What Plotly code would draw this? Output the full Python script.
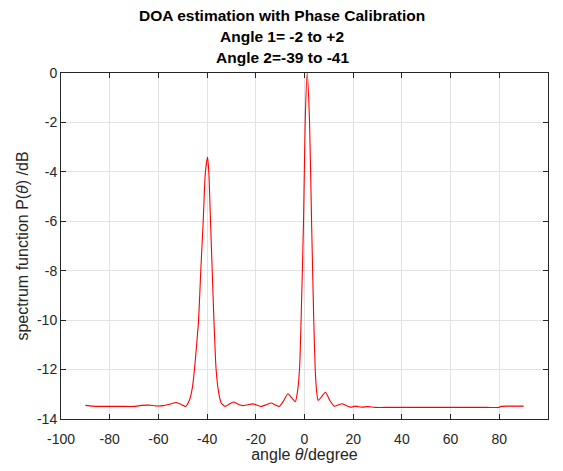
import plotly.graph_objects as go

angles = [-90, -87, -84, -80, -75, -70, -67, -64, -61, -58, -55, -52.7, -50.5, -48.8,
          -47.2, -46, -45.2, -44.3, -43.5, -42.6, -41.6, -40.7, -39.8, -39.3, -38.6,
          -37.9, -37.2, -36.3, -35.3, -34.2, -32.6, -31, -29.2, -27.3, -25.3, -23.2,
          -21.2, -19.5, -17.8, -15.7, -13.7, -12, -10.3, -8.5, -6.8, -5.2, -3.8, -2.9,
          -2.05, -1.4, -0.4, 0.3, 1.1, 2.05, 2.9, 3.8, 4.4, 5.0, 5.6, 7.0, 8.6, 10.4,
          12.3, 14, 15.4, 17, 18.9, 21, 23.5, 26, 29, 35, 45, 55, 65, 75, 80, 80.5, 85, 90]
spectrum_db = [-13.45, -13.48, -13.49, -13.49, -13.49, -13.49, -13.45, -13.44, -13.47, -13.46,
               -13.39, -13.33, -13.42, -13.49, -13.22, -12.7, -12.0, -11.0, -10.0, -8.0,
               -6.0, -4.0, -3.4, -4.0, -6.0, -8.0, -10.0, -12.0, -12.9, -13.35, -13.49,
               -13.4, -13.31, -13.4, -13.46, -13.42, -13.39, -13.44, -13.49, -13.42, -13.35,
               -13.43, -13.49, -13.25, -12.98, -13.15, -13.3, -12.9, -12.0, -10.0, -6.0,
               -1.9, 0.0, -1.9, -6.0, -10.0, -12.0, -12.9, -13.25, -13.1, -12.92, -13.25,
               -13.48, -13.42, -13.38, -13.45, -13.52, -13.48, -13.52, -13.5, -13.53,
               -13.53, -13.53, -13.53, -13.53, -13.53, -13.53, -13.49, -13.48, -13.48]

x_ticks = [-100, -80, -60, -40, -20, 0, 20, 40, 60, 80, 100]
y_ticks = [0, -2, -4, -6, -8, -10, -12, -14]

title_lines = ["DOA estimation with Phase Calibration", "Angle 1= -2 to +2", "Angle 2=-39 to -41"]

font_family = "Liberation Sans, Arial, sans-serif"
axis_color = "#262626"

# page body has an 8px margin, so the figure is sized to fit the 563x471 window
W, H = 547, 455
ml, mr, mt, mb = 53, 7, 64.7, 43.7
plot_h = H - mt - mb

fig = go.Figure()
fig.add_trace(go.Scatter(
    x=angles, y=spectrum_db, mode="lines",
    line=dict(color="#ff0000", width=1.1, shape="spline", smoothing=0.6),
    hoverinfo="skip", showlegend=False,
))

axis_common = dict(
    showline=True, linecolor=axis_color, linewidth=1, mirror="ticks",
    ticks="inside", ticklen=5, tickcolor=axis_color, tickwidth=1,
    showgrid=True, gridcolor="#e3e3e3", gridwidth=1, zeroline=False,
    tickfont=dict(family=font_family, size=14, color=axis_color),
    automargin=False,
)

fig.update_xaxes(
    range=[-100, 100], tickvals=x_ticks, ticktext=[str(v) for v in x_ticks],
    ticklabelstandoff=7,
    title=dict(text="angle <i>θ</i>/degree", font=dict(family=font_family, size=16, color=axis_color), standoff=4),
    **axis_common,
)
fig.update_yaxes(
    range=[-14, 0], tickvals=y_ticks, ticktext=[str(v) for v in y_ticks],
    title=dict(text="spectrum function P(<i>θ</i>) /dB", font=dict(family=font_family, size=16, color=axis_color), standoff=4),
    **axis_common,
)

title_centers_y = [7.5, 28.5, 49.5]  # figure pixels from top
annotations = []
for line, cy in zip(title_lines, title_centers_y):
    annotations.append(dict(
        text="<b>" + line + "</b>", showarrow=False,
        xref="paper", yref="paper",
        x=(274 - ml) / (W - ml - mr), y=(H - mb - cy) / plot_h,
        xanchor="center", yanchor="middle",
        font=dict(family=font_family, size=15.5, color="#000000"),
    ))

fig.update_layout(
    width=W, height=H,
    margin=dict(l=ml, r=mr, t=mt, b=mb, pad=0),
    paper_bgcolor="white", plot_bgcolor="white",
    annotations=annotations,
)

fig.write_html("out.html")
